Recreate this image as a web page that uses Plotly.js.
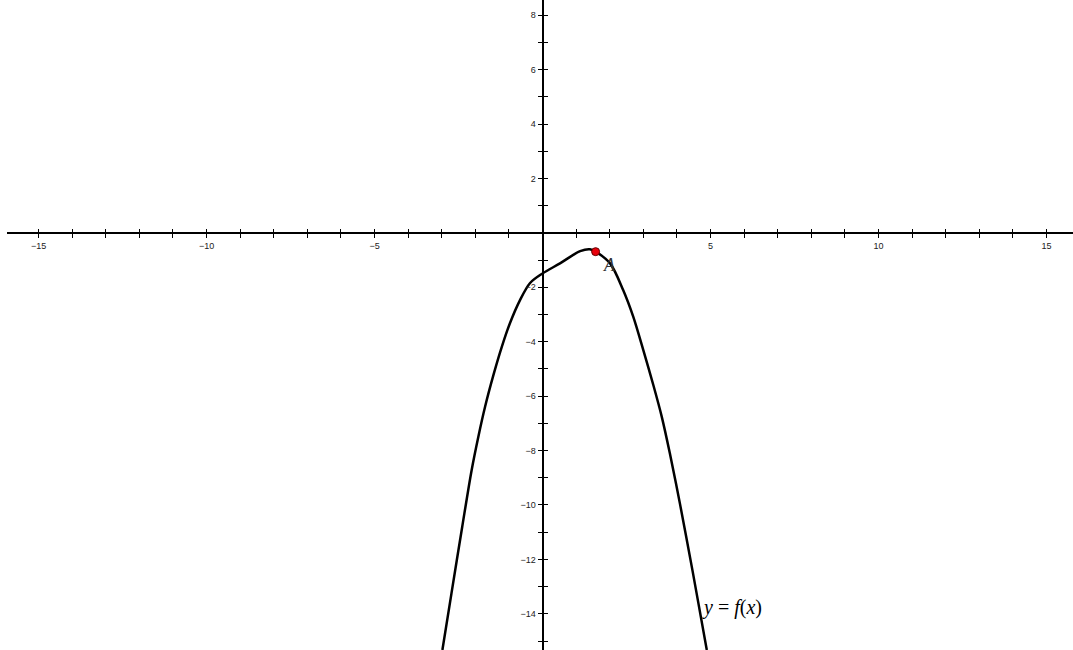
<!DOCTYPE html>
<html>
<head>
<meta charset="utf-8">
<script src="https://cdn.plot.ly/plotly-3.0.1.min.js"></script>
<style>
  html, body { margin: 0; padding: 0; background: #fff; }
  #chart { width: 1073px; height: 650px; }
</style>
</head>
<body>
<div id="chart"></div>
<script>
// Points sampled along the graph of y = f(x)
const curveX = [-2.98, -2.71, -2.39, -2.11, -1.91, -1.71, -1.46, -1.21, -0.97, -0.67, -0.37,
                0, 0.52, 1.12, 1.41, 1.58, 2.01, 2.40, 2.70, 3.00, 3.30, 3.55, 3.79, 4.09, 4.47, 4.65, 4.89];
const curveY = [-15.33, -13.25, -10.80, -8.72, -7.49, -6.39, -5.22, -4.18, -3.32, -2.47, -1.84,
                -1.49, -1.12, -0.67, -0.60, -0.69, -1.12, -2.10, -3.08, -4.31, -5.60, -6.76, -8.10, -9.95, -12.45, -13.68, -15.33];

// Marked point A on the curve
const pointA = { x: 1.58, y: -0.69 };

// Axis ticks and labels
const xTickVals = [];
for (let v = -15; v <= 15; v++) xTickVals.push(v);
const xTickText = xTickVals.map(v => (v !== 0 && v % 5 === 0) ? String(v).replace('-', '\u2212') : '');
const yTickVals = [];
for (let v = -15; v <= 8; v++) yTickVals.push(v);
const yTickText = yTickVals.map(v => (v !== 0 && v % 2 === 0) ? String(v).replace('-', '\u2212') : '');

const xRange = [-15.94, 15.79];
const yRange = [-15.33, 8.56];
const xDomain = [7 / 1073, 1];
const yDomain = [0, 1];

// Axes cross at the origin: place each axis at the paper position of zero
const xAxisPos = yDomain[0] + (0 - yRange[0]) / (yRange[1] - yRange[0]) * (yDomain[1] - yDomain[0]);
const yAxisPos = xDomain[0] + (0 - xRange[0]) / (xRange[1] - xRange[0]) * (xDomain[1] - xDomain[0]);

const tickFont = { family: 'Liberation Sans, Arial, sans-serif', size: 9, color: '#222' };

const traces = [
  {
    x: curveX, y: curveY, type: 'scatter', mode: 'lines',
    line: { color: '#000', width: 2.5, shape: 'spline', smoothing: 0.9 },
    hoverinfo: 'skip', showlegend: false
  },
  {
    x: [pointA.x], y: [pointA.y], type: 'scatter', mode: 'markers',
    marker: { color: '#e8000b', size: 8, line: { color: '#600', width: 1 } },
    hoverinfo: 'skip', showlegend: false
  },
  {
    // carries the second (inner-tick) pair of axes
    x: [0], y: [0], xaxis: 'x2', yaxis: 'y2', type: 'scatter', mode: 'markers',
    marker: { opacity: 0 }, hoverinfo: 'skip', showlegend: false
  }
];

const baseX = {
  range: xRange, domain: xDomain, anchor: 'free', position: xAxisPos,
  tickmode: 'array', tickvals: xTickVals,
  ticklen: 4, tickwidth: 1, tickcolor: '#000',
  showgrid: false, zeroline: false
};
const baseY = {
  range: yRange, domain: yDomain, anchor: 'free', position: yAxisPos,
  tickmode: 'array', tickvals: yTickVals,
  ticklen: 4, tickwidth: 1, tickcolor: '#000',
  showgrid: false, zeroline: false
};

const layout = {
  width: 1073, height: 650,
  margin: { l: 0, r: 0, t: 0, b: 0, pad: 0 },
  paper_bgcolor: '#fff', plot_bgcolor: '#fff',
  showlegend: false,
  xaxis: Object.assign({}, baseX, {
    ticks: 'outside', ticktext: xTickText, tickfont: tickFont,
    showline: true, linecolor: '#000', linewidth: 2.5
  }),
  yaxis: Object.assign({}, baseY, {
    ticks: 'outside', ticktext: yTickText, tickfont: tickFont,
    showline: true, linecolor: '#000', linewidth: 2.5
  }),
  xaxis2: Object.assign({}, baseX, {
    overlaying: 'x', ticks: 'inside', showticklabels: false, showline: false
  }),
  yaxis2: Object.assign({}, baseY, {
    overlaying: 'y', ticks: 'inside', showticklabels: false, showline: false
  }),
  annotations: [
    {
      x: 1.98, y: -1.18, xref: 'x', yref: 'y', text: '<i>A</i>', showarrow: false,
      xanchor: 'center', yanchor: 'middle',
      font: { family: 'Liberation Serif, Times New Roman, serif', size: 18, color: '#333' }
    },
    {
      x: 4.70, y: -13.75, xref: 'x', yref: 'y',
      text: '<i>y</i> = <i>f</i>(<i>x</i>)', showarrow: false,
      xanchor: 'left', yanchor: 'middle',
      font: { family: 'Liberation Serif, Times New Roman, serif', size: 20, color: '#000' }
    }
  ]
};

Plotly.newPlot('chart', traces, layout, { staticPlot: true, displayModeBar: false });
</script>
</body>
</html>
